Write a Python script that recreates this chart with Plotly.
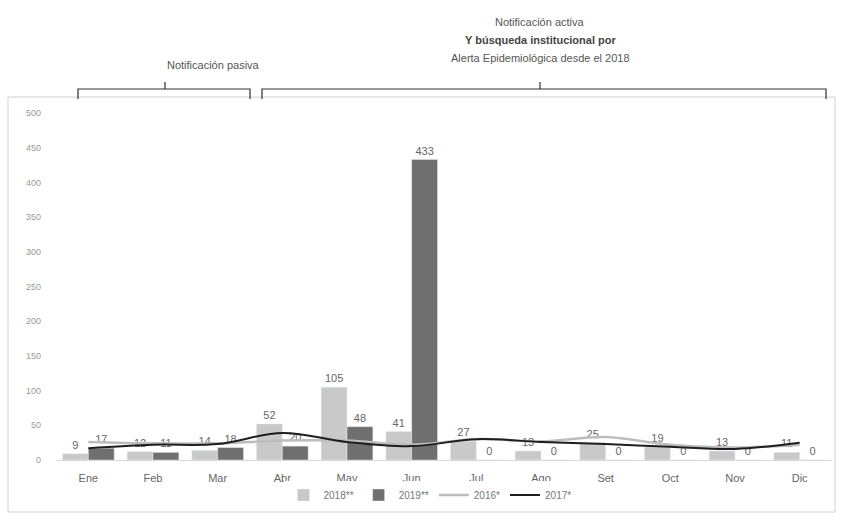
import plotly.graph_objects as go

months = ["Ene", "Feb", "Mar", "Abr", "May", "Jun", "Jul", "Ago", "Set", "Oct", "Nov", "Dic"]
v2018 = [9, 12, 14, 52, 105, 41, 27, 13, 25, 19, 13, 11]
v2019 = [17, 11, 18, 20, 48, 433, 0, 0, 0, 0, 0, 0]
v2016 = [26, 24, 24, 28, 28, 22, 30, 27, 33, 22, 18, 22]
v2017 = [17, 22, 23, 39, 26, 20, 30, 26, 23, 19, 16, 25]
yticks = [0, 50, 100, 150, 200, 250, 300, 350, 400, 450, 500]

W, H = 841, 529
def px(x):
    return x / W
def py(y):
    return 1 - y / H

FONT = "Liberation Sans"
fig = go.Figure()
fig.add_trace(go.Bar(x=months, y=v2018, name="2018**", marker_color="#c9c9c9",
                     text=v2018, textposition="outside", cliponaxis=False,
                     textfont=dict(size=11, color="#666")))
fig.add_trace(go.Bar(x=months, y=v2019, name="2019**", marker_color="#6f6f6f",
                     text=v2019, textposition="outside", cliponaxis=False,
                     textfont=dict(size=11, color="#666")))
fig.add_trace(go.Scatter(x=months, y=v2016, name="2016*", mode="lines",
                         line=dict(color="#bdbdbd", width=2.5, shape="spline")))
fig.add_trace(go.Scatter(x=months, y=v2017, name="2017*", mode="lines",
                         line=dict(color="#1e1e1e", width=2, shape="spline")))

shapes = []
# outer box
shapes.append(dict(type="rect", xref="paper", yref="paper",
                   x0=px(8), x1=px(835), y0=py(512), y1=py(97),
                   line=dict(color="#d0d0d0", width=1)))
# braces
def brace(x0, x1, xc):
    path = (f"M {px(x0)} {py(99)} L {px(x0)} {py(89)} L {px(x1)} {py(89)} L {px(x1)} {py(99)} "
            f"M {px(xc)} {py(89)} L {px(xc)} {py(82)}")
    return dict(type="path", xref="paper", yref="paper", path=path,
                line=dict(color="#333", width=1.2))
shapes.append(brace(78, 250, 165))
shapes.append(brace(262, 826, 540))

annotations = [
    dict(text="Notificación activa", x=px(540), y=py(14), xref="paper", yref="paper",
         showarrow=False, font=dict(size=11, color="#555", family=FONT)),
    dict(text="<b>Y búsqueda institucional por</b>", x=px(540), y=py(32), xref="paper", yref="paper",
         showarrow=False, font=dict(size=11, color="#444", family=FONT)),
    dict(text="Alerta Epidemiológica desde el 2018", x=px(540), y=py(50), xref="paper", yref="paper",
         showarrow=False, font=dict(size=11, color="#555", family=FONT)),
    dict(text="Notificación pasiva", x=px(165), y=py(57), xref="paper", yref="paper",
         showarrow=False, font=dict(size=11, color="#555", family=FONT)),
]

fig.update_layout(
    width=W, height=H,
    margin=dict(l=0, r=0, t=0, b=0),
    paper_bgcolor="white", plot_bgcolor="white",
    barmode="group", bargap=0.2, bargroupgap=0.0,
    font=dict(family=FONT, size=10, color="#777"),
    xaxis=dict(domain=[px(56), px(832)], showgrid=False, showline=True,
               linecolor="#d9d9d9", ticks="", tickfont=dict(size=11, color="#666"),
               ticklabelstandoff=8, automargin=False),
    yaxis=dict(domain=[py(460), py(113)], range=[0, 500], tickvals=yticks,
               showgrid=False, zeroline=False, showline=False,
               tickfont=dict(size=9, color="#999"), ticklabelstandoff=14,
               automargin=False),
    legend=dict(orientation="h", x=px(430), xanchor="center", y=py(495), yanchor="middle",
                font=dict(size=10, color="#777"), itemwidth=30, traceorder="normal"),
    shapes=shapes, annotations=annotations,
)

fig.write_html("out.html")
